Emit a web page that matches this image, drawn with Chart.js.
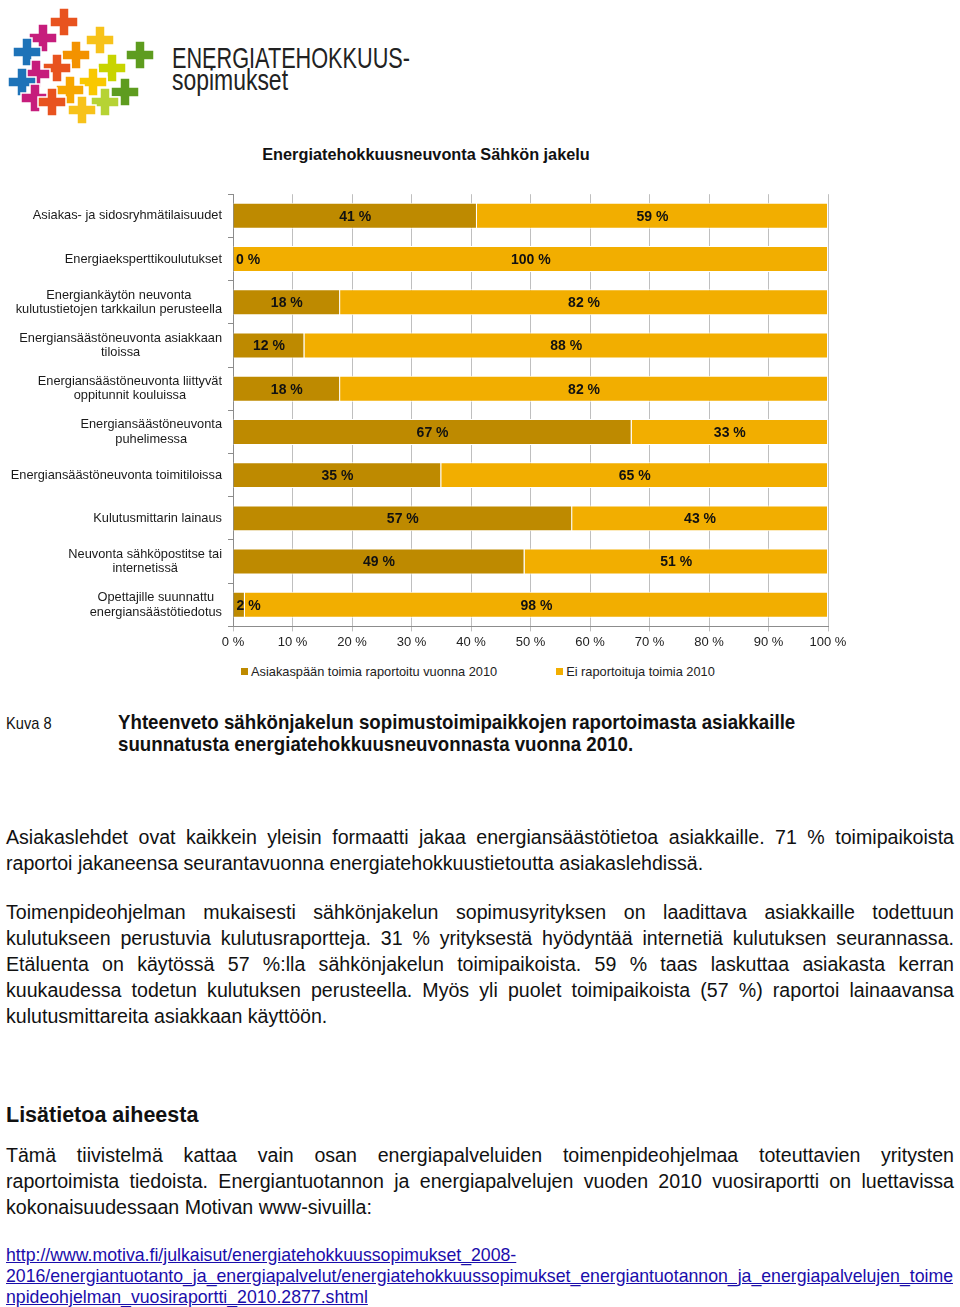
<!DOCTYPE html>
<html lang="fi">
<head>
<meta charset="utf-8">
<title>Energiatehokkuusneuvonta Sähkön jakelu</title>
<script src="https://cdn.jsdelivr.net/npm/chart.js@4.4.1/dist/chart.umd.min.js"></script>
<style>
  body { margin: 0; width: 960px; height: 1307px; position: relative; background: #fff;
         font-family: "Liberation Sans", Arial, sans-serif; color: #111; overflow: hidden; }
  .abs { position: absolute; }
  #logo { left: 0; top: 0; }
  #chartTitle { left: 0; width: 852px; top: 145px; text-align: center; font-weight: bold; font-size: 16.3px; line-height: 18px; }
  #chart { left: 0; top: 181px; }
  #legend { left: 241px; top: 664px; display: flex; gap: 59px; font-size: 12.8px; line-height: 16px; color: #222; }
  #legend span.sw { display: inline-block; width: 7px; height: 7px; margin-right: 3px; vertical-align: 1px; }
  .cap-num { left: 6px; top: 713px; font-size: 17px; line-height: 22px; transform: scaleX(0.86); transform-origin: 0 0; }
  .cap { left: 118px; top: 711px; font-weight: bold; font-size: 21px; line-height: 22px; white-space: nowrap;
         transform: scaleX(0.89); transform-origin: 0 0; }
  .para { left: 6px; width: 948px; font-size: 19.6px; line-height: 26px; }
  .para div { text-align: justify; text-align-last: justify; white-space: nowrap; }
  .para div.last { text-align-last: left; }
  h2 { margin: 0; left: 6px; top: 1102px; font-size: 21.5px; line-height: 26px; }
  .link { left: 6px; width: 948px; top: 1245px; font-size: 17.7px; line-height: 21px; color: #1a0dab; text-decoration: underline; }
  .link div { text-align: justify; text-align-last: justify; white-space: nowrap; }
  .link div.last { text-align-last: left; }
</style>
</head>
<body>

<svg id="logo" class="abs" width="420" height="130" viewBox="0 0 420 130">
  <defs>
    <path id="cr" d="M-5,-14h10v9h9v10h-9v9h-10v-9h-9v-10h9z" stroke="#fff" stroke-width="1.5"/>
  </defs>
  <use href="#cr" x="64" y="22" fill="#E8531F"/>
  <use href="#cr" x="100" y="40" fill="#F7C21A"/>
  <use href="#cr" x="43" y="38" fill="#C61D7C"/>
  <use href="#cr" x="27" y="52" fill="#1E73B8"/>
  <use href="#cr" x="76" y="55" fill="#F39200"/>
  <use href="#cr" x="140" y="55" fill="#5E9C1F"/>
  <use href="#cr" x="57" y="68" fill="#E8531F"/>
  <use href="#cr" x="112" y="68" fill="#C8D400"/>
  <use href="#cr" x="36" y="74" fill="#C61D7C"/>
  <use href="#cr" x="93" y="82" fill="#F9C800"/>
  <use href="#cr" x="22" y="82" fill="#1E73B8"/>
  <use href="#cr" x="70" y="90" fill="#F7A600"/>
  <use href="#cr" x="125" y="92" fill="#5E9C1F"/>
  <use href="#cr" x="105" y="102" fill="#B6D334"/>
  <use href="#cr" x="35" y="98" fill="#C61D7C"/>
  <use href="#cr" x="52" y="102" fill="#E8531F"/>
  <use href="#cr" x="82" y="110" fill="#F7C21A"/>
  <text x="172" y="68" font-family="Liberation Sans, sans-serif" font-size="30" fill="#222" textLength="238" lengthAdjust="spacingAndGlyphs">ENERGIATEHOKKUUS-</text>
  <text x="172" y="90" font-family="Liberation Sans, sans-serif" font-size="29" fill="#222" textLength="116" lengthAdjust="spacingAndGlyphs">sopimukset</text>
</svg>

<div id="chartTitle" class="abs">Energiatehokkuusneuvonta Sähkön jakelu</div>
<canvas id="chart" class="abs" width="954" height="476"></canvas>
<div id="legend" class="abs"></div>

<div class="abs cap-num">Kuva 8</div>
<div class="abs cap">Yhteenveto sähkönjakelun sopimustoimipaikkojen raportoimasta asiakkaille<br>suunnatusta energiatehokkuusneuvonnasta vuonna 2010.</div>

<div class="abs para" style="top:824px">
  <div>Asiakaslehdet ovat kaikkein yleisin formaatti jakaa energiansäästötietoa asiakkaille. 71 % toimipaikoista</div>
  <div class="last">raportoi jakaneensa seurantavuonna energiatehokkuustietoutta asiakaslehdissä.</div>
</div>

<div class="abs para" style="top:899px">
  <div>Toimenpideohjelman mukaisesti sähkönjakelun sopimusyrityksen on laadittava asiakkaille todettuun</div>
  <div>kulutukseen perustuvia kulutusraportteja. 31 % yrityksestä hyödyntää internetiä kulutuksen seurannassa.</div>
  <div>Etäluenta on käytössä 57 %:lla sähkönjakelun toimipaikoista. 59 % taas laskuttaa asiakasta kerran</div>
  <div>kuukaudessa todetun kulutuksen perusteella. Myös yli puolet toimipaikoista (57 %) raportoi lainaavansa</div>
  <div class="last">kulutusmittareita asiakkaan käyttöön.</div>
</div>

<h2 class="abs">Lisätietoa aiheesta</h2>

<div class="abs para" style="top:1142px">
  <div>Tämä tiivistelmä kattaa vain osan energiapalveluiden toimenpideohjelmaa toteuttavien yritysten</div>
  <div>raportoimista tiedoista. Energiantuotannon ja energiapalvelujen vuoden 2010 vuosiraportti on luettavissa</div>
  <div class="last">kokonaisuudessaan Motivan www-sivuilla:</div>
</div>

<div class="abs link">
  <div class="last">http://www.motiva.fi/julkaisut/energiatehokkuussopimukset_2008-</div>
  <div>2016/energiantuotanto_ja_energiapalvelut/energiatehokkuussopimukset_energiantuotannon_ja_energiapalvelujen_toime</div>
  <div class="last">npideohjelman_vuosiraportti_2010.2877.shtml</div>
</div>

<script>
const categories = [
    'Asiakas- ja sidosryhmätilaisuudet',
    'Energiaeksperttikoulutukset',
    ['Energiankäytön neuvonta', 'kulutustietojen tarkkailun perusteella'],
    ['Energiansäästöneuvonta asiakkaan', 'tiloissa'],
    ['Energiansäästöneuvonta liittyvät', 'oppitunnit kouluissa'],
    ['Energiansäästöneuvonta', 'puhelimessa'],
    'Energiansäästöneuvonta toimitiloissa',
    'Kulutusmittarin lainaus',
    ['Neuvonta sähköpostitse tai', 'internetissä'],
    ['Opettajille suunnattu', 'energiansäästötiedotus']
];
const reported = [41, 0, 18, 12, 18, 67, 35, 57, 49, 2];
const notReported = [59, 100, 82, 88, 82, 33, 65, 43, 51, 98];
const seriesNames = ['Asiakaspään toimia raportoitu vuonna 2010', 'Ei raportoituja toimia 2010'];
const tickLabels = ['0 %', '10 %', '20 %', '30 %', '40 %', '50 %', '60 %', '70 %', '80 %', '90 %', '100 %'];

const FONT = '"Liberation Sans", Arial, sans-serif';
Chart.defaults.font.family = FONT;
Chart.defaults.font.size = 12;

// category labels: block right-aligned, lines centred on each other
const yLabels = {
    id: 'yLabels',
    afterDraw(chart) {
        const scale = chart.scales.y;
        const ctx = chart.ctx;
        ctx.save();
        ctx.font = '12.8px ' + FONT;
        ctx.fillStyle = '#1a1a1a';
        ctx.textAlign = 'center';
        ctx.textBaseline = 'middle';
        const right = scale.right - 5 - 6;
        categories.forEach((lab, i) => {
            const lines = Array.isArray(lab) ? lab : [lab];
            const w = Math.max(...lines.map(l => ctx.measureText(l).width));
            const y = scale.getPixelForTick(i);
            const lh = 14.5;
            lines.forEach((l, k) => {
                ctx.fillText(l, right - w / 2, y + (k - (lines.length - 1) / 2) * lh);
            });
        });
        ctx.restore();
    }
};

// value labels inside the bars
const valueLabels = {
    id: 'valueLabels',
    afterDatasetsDraw(chart) {
        const ctx = chart.ctx;
        ctx.save();
        ctx.font = 'bold 14px ' + FONT;
        ctx.fillStyle = '#111';
        ctx.textAlign = 'center';
        ctx.textBaseline = 'middle';
        chart.data.datasets.forEach((ds, di) => {
            chart.getDatasetMeta(di).data.forEach((bar, i) => {
                const text = ds.data[i] + ' %';
                const tw = ctx.measureText(text).width;
                const left = Math.min(bar.x, bar.base);
                const w = Math.abs(bar.x - bar.base);
                let x = left + w / 2;
                if (w < tw + 4) x = left + tw / 2 + 3;
                ctx.fillText(text, x, bar.y + 1);
            });
        });
        ctx.restore();
    }
};

const colors = ['#BE8A00', '#F2AE00'];

const chart = new Chart(document.getElementById('chart'), {
    type: 'bar',
    data: {
        labels: categories,
        datasets: [
            { label: seriesNames[0], data: reported, backgroundColor: colors[0], borderColor: '#fff', borderWidth: 1 },
            { label: seriesNames[1], data: notReported, backgroundColor: colors[1], borderColor: '#fff', borderWidth: 1 }
        ]
    },
    options: {
        indexAxis: 'y',
        responsive: false,
        animation: false,
        layout: { padding: { top: 8, right: 126, bottom: 4, left: 0 } },
        datasets: { bar: { categoryPercentage: 1, barPercentage: 0.6 } },
        plugins: {
            legend: { display: false },
            tooltip: { enabled: false },
            title: { display: false }
        },
        scales: {
            x: {
                stacked: true,
                min: 0,
                max: 100,
                ticks: {
                    stepSize: 10,
                    color: '#222',
                    padding: 3,
                    font: { size: 13 },
                    callback: (v, i) => tickLabels[i]
                },
                grid: { color: '#BFBFBF', lineWidth: 1, tickLength: 5, drawTicks: true },
                border: { color: '#8C8C8C' }
            },
            y: {
                stacked: true,
                afterFit: s => { s.width = 233; },
                // labels are drawn by the yLabels plugin
                ticks: { padding: 6, callback: () => '' },
                grid: { drawOnChartArea: false, offset: true, tickLength: 5, color: '#8C8C8C' },
                border: { color: '#8C8C8C' }
            }
        }
    },
    plugins: [yLabels, valueLabels]
});

// legend built from the chart's own datasets
const legend = document.getElementById('legend');
chart.data.datasets.forEach(ds => {
    const item = document.createElement('div');
    const sw = document.createElement('span');
    sw.className = 'sw';
    sw.style.background = ds.backgroundColor;
    item.appendChild(sw);
    item.appendChild(document.createTextNode(ds.label));
    legend.appendChild(item);
});
</script>
</body>
</html>
